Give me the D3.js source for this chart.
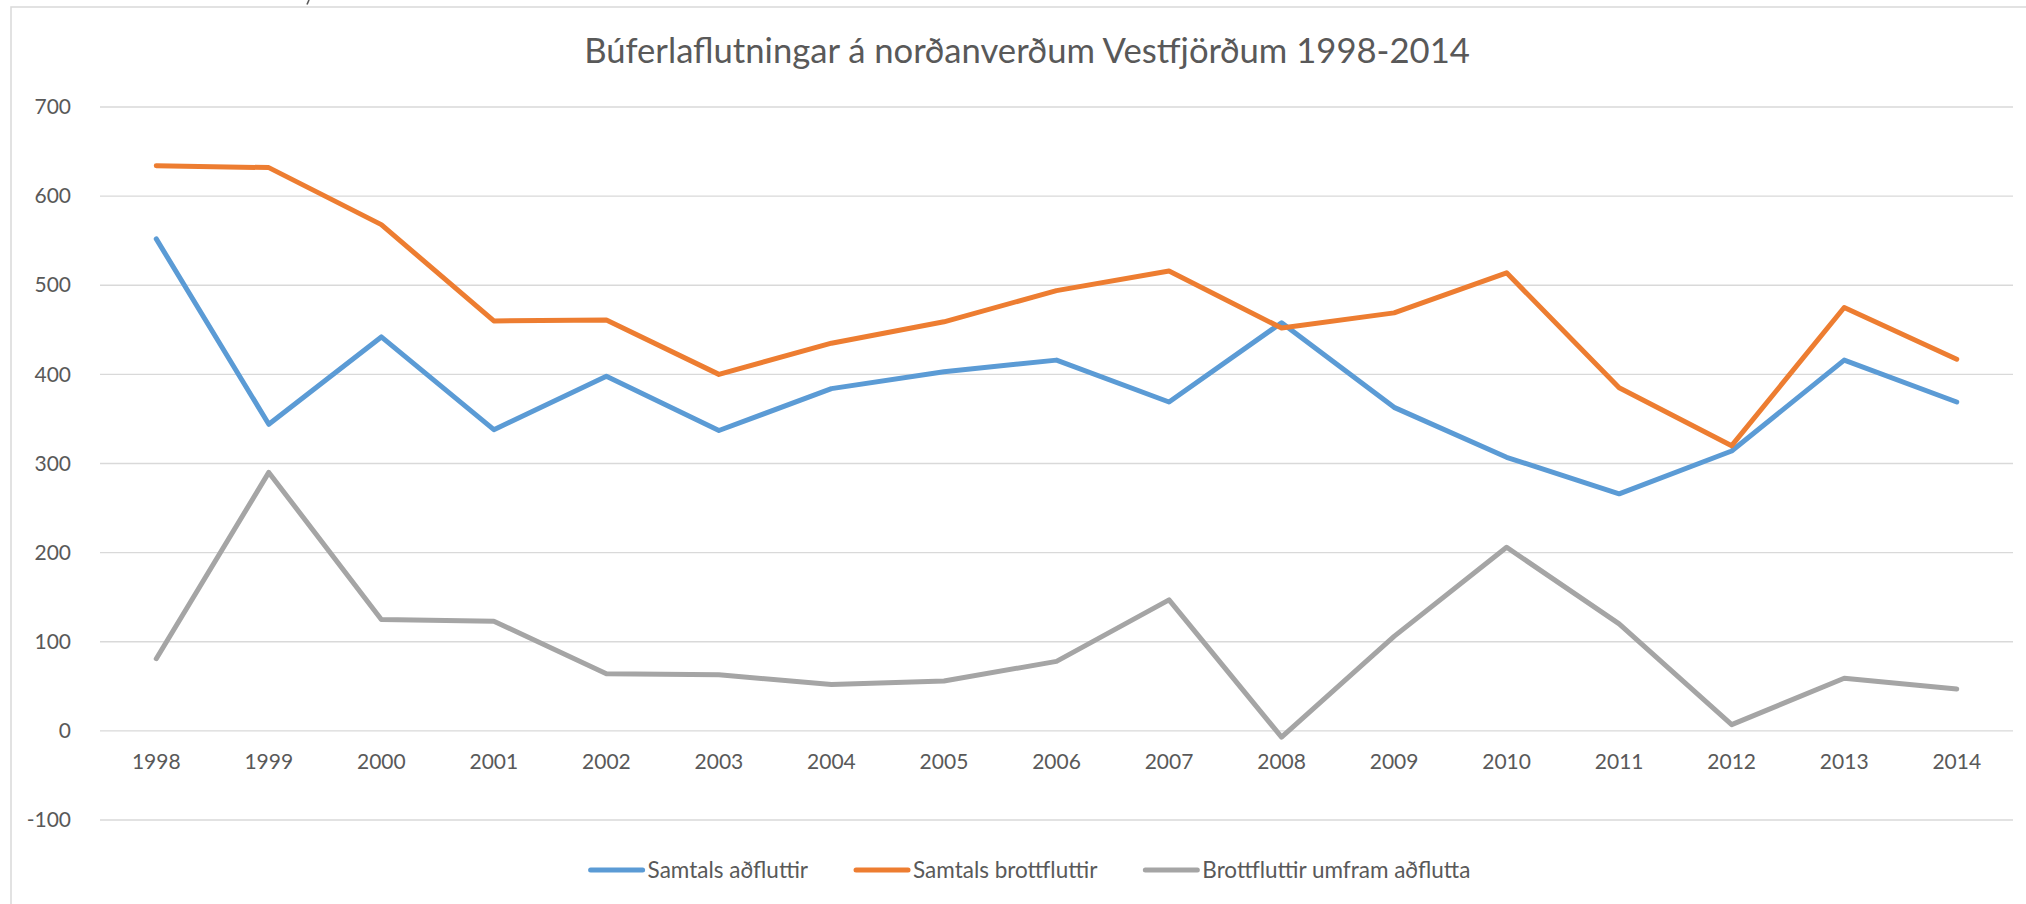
<!DOCTYPE html>
<html>
<head>
<meta charset="utf-8">
<script src="https://cdn.jsdelivr.net/npm/d3@7"></script>
<style>
  html, body { margin: 0; padding: 0; background: #fff; }
  svg { display: block; font-family: Lato, "Open Sans", sans-serif; }
</style>
</head>
<body>
<svg id="chart" width="2026" height="904"></svg>
<script>
const title = "Búferlaflutningar á norðanverðum Vestfjörðum 1998-2014";
const years = ["1998","1999","2000","2001","2002","2003","2004","2005","2006","2007","2008","2009","2010","2011","2012","2013","2014"];
const seriesNames = ["Samtals aðfluttir", "Samtals brottfluttir", "Brottfluttir umfram aðflutta"];
const samtalsAdfluttir = [552, 344, 442, 338, 398, 337, 384, 403, 416, 369, 458, 363, 307, 266, 314, 416, 369];
const samtalsBrottfluttir = [634, 632, 568, 460, 461, 400, 435, 459, 494, 516, 452, 469, 514, 385, 320, 475, 417];
const brottfluttirUmfram = [81, 290, 125, 123, 64, 63, 52, 56, 78, 147, -7, 106, 206, 120, 7, 59, 47];
const yTicks = [-100, 0, 100, 200, 300, 400, 500, 600, 700];
const colors = ["#5B9BD5", "#ED7D31", "#A5A5A5"];

const svg = d3.select("#chart");
const W = 2026, H = 904;
const plot = { left: 100, right: 2013, top: 107, bottom: 820 };
const textColor = "#595959";

svg.append("rect").attr("x", 0).attr("y", 0).attr("width", W).attr("height", H).attr("fill", "#fff");
// chart area border (cropped at right/bottom)
svg.append("rect").attr("x", 11).attr("y", 7).attr("width", W + 20).attr("height", H + 20)
  .attr("fill", "none").attr("stroke", "#D9D9D9").attr("stroke-width", 1.5);
// descender fragment of text cut off above the picture
svg.append("path").attr("d", "M309,0 L307,4.5").attr("stroke", textColor).attr("stroke-width", 1.6)
  .attr("fill", "none");

const x = d3.scaleBand().domain(years).range([plot.left, plot.right]).padding(0);
const y = d3.scaleLinear().domain([-100, 700]).range([plot.bottom, plot.top]);
const cx = d => x(d) + x.bandwidth() / 2;

// gridlines
svg.append("g").selectAll("line").data(yTicks).join("line")
  .attr("x1", plot.left).attr("x2", plot.right)
  .attr("y1", d => y(d)).attr("y2", d => y(d))
  .attr("stroke", "#D9D9D9").attr("stroke-width", 1.4);

// y axis labels
const yAxis = d3.axisLeft(y).tickValues(yTicks).tickSize(0).tickPadding(0).tickFormat(d => String(d));
const gy = svg.append("g").attr("transform", `translate(71,0)`).call(yAxis);
gy.select(".domain").remove();
gy.selectAll("text").attr("font-size", 21).attr("fill", textColor).attr("font-family", "Lato, sans-serif");

// x axis labels
const xAxis = d3.axisBottom(x).tickSize(0).tickPadding(0);
const gx = svg.append("g").attr("transform", `translate(0,${y(0)})`).call(xAxis);
gx.select(".domain").remove();
gx.selectAll("text").attr("font-size", 21).attr("fill", textColor).attr("font-family", "Lato, sans-serif")
  .attr("dy", null).attr("y", 38);

// lines
const data = [samtalsAdfluttir, samtalsBrottfluttir, brottfluttirUmfram];
const line = d3.line().x((d, i) => cx(years[i])).y(d => y(d));
svg.append("g").selectAll("path").data(data).join("path")
  .attr("d", line).attr("fill", "none")
  .attr("stroke", (d, i) => colors[i]).attr("stroke-width", 5)
  .attr("stroke-linejoin", "round").attr("stroke-linecap", "round");

// title
const t = svg.append("text").attr("x", 1027).attr("y", 63).attr("text-anchor", "middle")
  .attr("font-size", 32).attr("fill", textColor).text(title);
const tw = t.node().getComputedTextLength();
t.attr("font-size", 32 * 886 / tw);

// legend
const lg = svg.append("g");
let cursor = 0;
const sample = 56, gap1 = 3, gap2 = 46;
seriesNames.forEach((name, i) => {
  const g = lg.append("g").attr("transform", `translate(${cursor},0)`);
  g.append("line").attr("x1", 2).attr("x2", sample - 2).attr("y1", 0).attr("y2", 0)
    .attr("stroke", colors[i]).attr("stroke-width", 5).attr("stroke-linecap", "round");
  const tx = g.append("text").attr("x", sample + gap1).attr("y", 0).attr("dy", "0.35em")
    .attr("font-size", 22.5).attr("fill", textColor).text(name);
  cursor += sample + gap1 + tx.node().getComputedTextLength() + gap2;
});
const total = cursor - gap2;
lg.attr("transform", `translate(${1029.5 - total / 2},870)`);
</script>
</body>
</html>
